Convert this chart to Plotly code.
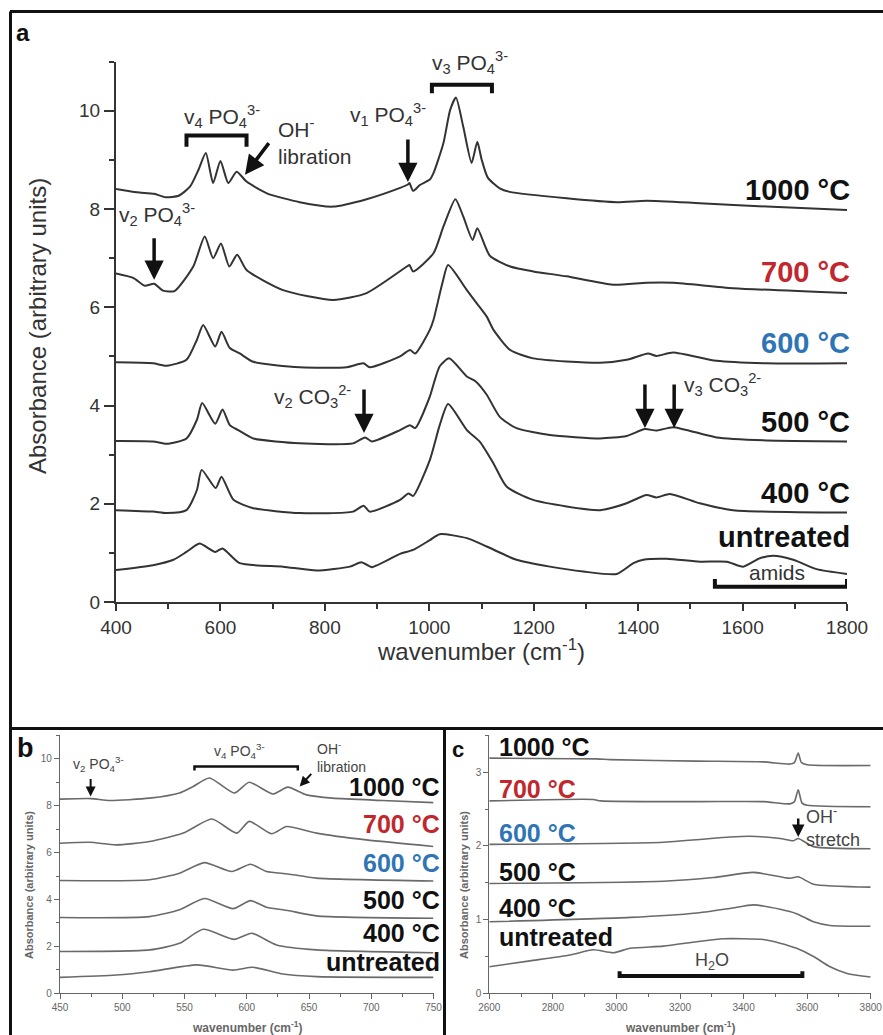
import plotly.graph_objects as go

W, H = 883, 1035


def px(x):
    return x / W


def py(y):
    return 1 - y / H


FONT = "Arial, Liberation Sans, sans-serif"

samples = ["1000 °C", "700 °C", "600 °C", "500 °C", "400 °C", "untreated"]
sample_colors = ["#111111", "#c1272d", "#2f75b5", "#111111", "#111111", "#111111"]

# ---------------- Panel a (400-1800 cm-1) ----------------
a_wn_1000 = [400, 440, 473, 495, 520, 542, 558, 572, 586, 600, 615, 631, 650, 689, 752, 816, 880, 944, 959, 962, 969,
             982, 1001, 1008, 1027, 1040, 1051, 1065, 1081, 1092, 1100, 1112, 1135, 1154, 1263, 1359, 1416, 1518, 1646, 1800]
a_ab_1000 = [8.41, 8.34, 8.31, 8.24, 8.27, 8.46, 8.80, 9.14, 8.53, 8.98, 8.53, 8.76, 8.56, 8.32, 8.14, 8.05, 8.20, 8.43,
             8.50, 8.53, 8.37, 8.49, 8.60, 8.73, 9.34, 10.02, 10.27, 9.68, 8.94, 9.37, 9.02, 8.64, 8.42, 8.35, 8.22,
             8.14, 8.17, 8.12, 8.05, 7.98]

a_wn_700 = [400, 433, 455, 473, 490, 512, 548, 570, 586, 601, 617, 632, 650, 720, 816, 880, 957, 962, 969, 1008, 1027,
            1050, 1065, 1083, 1092, 1116, 1155, 1199, 1263, 1352, 1416, 1467, 1582, 1800]
a_ab_700 = [6.69, 6.60, 6.44, 6.48, 6.34, 6.33, 6.83, 7.44, 7.00, 7.30, 6.83, 7.07, 6.76, 6.35, 6.15, 6.29, 6.83, 6.86,
            6.73, 7.10, 7.64, 8.20, 7.85, 7.37, 7.61, 7.05, 6.83, 6.73, 6.63, 6.46, 6.50, 6.50, 6.39, 6.29]

a_wn_600 = [400, 471, 497, 535, 555, 567, 590, 602, 618, 637, 663, 752, 842, 874, 886, 944, 963, 973, 1001, 1008, 1025,
            1036, 1072, 1091, 1110, 1123, 1155, 1199, 1327, 1378, 1419, 1435, 1467, 1550, 1646, 1800]
a_ab_600 = [4.88, 4.86, 4.81, 4.93, 5.34, 5.64, 5.20, 5.50, 5.17, 5.06, 4.89, 4.78, 4.78, 4.86, 4.78, 5.00, 5.13, 5.06,
            5.54, 5.74, 6.49, 6.86, 6.35, 6.08, 5.81, 5.54, 5.13, 4.96, 4.87, 4.93, 5.06, 5.01, 5.08, 4.91, 4.86, 4.86]

a_wn_500 = [400, 471, 497, 535, 555, 565, 590, 604, 618, 634, 663, 752, 854, 877, 890, 944, 963, 973, 1001, 1010, 1020,
            1038, 1072, 1089, 1110, 1135, 1167, 1231, 1327, 1378, 1413, 1435, 1467, 1550, 1646, 1800]
a_ab_500 = [3.28, 3.27, 3.22, 3.33, 3.71, 4.05, 3.63, 3.92, 3.60, 3.50, 3.33, 3.23, 3.23, 3.35, 3.27, 3.50, 3.60, 3.54,
            4.18, 4.50, 4.80, 4.96, 4.59, 4.49, 4.22, 3.77, 3.54, 3.40, 3.33, 3.38, 3.52, 3.49, 3.56, 3.35, 3.29, 3.27]

a_wn_400 = [400, 471, 497, 535, 555, 564, 591, 602, 625, 663, 752, 854, 874, 886, 944, 960, 969, 1001, 1020, 1036, 1072,
            1097, 1123, 1148, 1199, 1327, 1378, 1416, 1435, 1461, 1518, 1582, 1800]
a_ab_400 = [1.87, 1.84, 1.81, 1.87, 2.28, 2.69, 2.32, 2.55, 2.08, 1.91, 1.81, 1.84, 1.96, 1.84, 2.08, 2.21, 2.16, 2.89,
            3.60, 4.03, 3.50, 3.26, 2.82, 2.35, 2.08, 1.87, 2.01, 2.18, 2.13, 2.20, 2.01, 1.87, 1.82]

a_wn_un = [400, 471, 510, 535, 560, 590, 604, 637, 720, 784, 848, 870, 890, 944, 969, 1001, 1020, 1072, 1110, 1167, 1231,
           1295, 1359, 1391, 1410, 1455, 1518, 1570, 1601, 1633, 1659, 1697, 1742, 1800]
a_ab_un = [0.65, 0.75, 0.86, 1.02, 1.19, 1.02, 1.09, 0.79, 0.72, 0.64, 0.72, 0.81, 0.71, 0.98, 1.06, 1.26, 1.38, 1.30,
           1.13, 0.86, 0.72, 0.62, 0.57, 0.79, 0.86, 0.88, 0.82, 0.82, 0.72, 0.89, 0.94, 0.86, 0.67, 0.57]

# ---------------- Panel b (450-750 cm-1) ----------------
b_wn_1000 = [450, 475, 490, 522, 546, 557, 570, 590, 602, 621, 633, 648, 669, 709, 750]
b_ab_1000 = [8.28, 8.30, 8.22, 8.32, 8.54, 8.82, 9.18, 8.54, 9.00, 8.50, 8.79, 8.46, 8.32, 8.22, 8.13]
b_wn_700 = [450, 474, 495, 522, 549, 572, 592, 602, 620, 632, 656, 696, 750]
b_ab_700 = [6.40, 6.44, 6.33, 6.47, 6.83, 7.43, 6.83, 7.33, 6.80, 7.11, 6.83, 6.54, 6.26]
b_wn_600 = [450, 522, 546, 566, 588, 603, 616, 633, 656, 750]
b_ab_600 = [4.81, 4.84, 5.12, 5.57, 5.19, 5.50, 5.19, 5.09, 4.91, 4.79]
b_wn_500 = [450, 522, 546, 566, 589, 603, 616, 633, 656, 750]
b_ab_500 = [3.23, 3.27, 3.56, 4.04, 3.61, 3.95, 3.67, 3.53, 3.30, 3.20]
b_wn_400 = [450, 522, 546, 565, 590, 604, 624, 656, 750]
b_ab_400 = [1.78, 1.85, 2.13, 2.73, 2.30, 2.56, 2.06, 1.85, 1.73]
b_wn_un = [450, 495, 522, 560, 589, 605, 629, 656, 750]
b_ab_un = [0.68, 0.78, 0.92, 1.21, 0.99, 1.11, 0.82, 0.71, 0.68]

# ---------------- Panel c (2600-3800 cm-1) ----------------
c_wn_1000 = [2600, 2938, 2980, 3253, 3462, 3546, 3560, 3572, 3582, 3600, 3800]
c_ab_1000 = [3.19, 3.18, 3.17, 3.15, 3.14, 3.11, 3.13, 3.26, 3.13, 3.10, 3.09]
c_wn_700 = [2600, 2927, 2950, 3253, 3462, 3546, 3560, 3572, 3584, 3600, 3800]
c_ab_700 = [2.61, 2.63, 2.61, 2.60, 2.60, 2.57, 2.60, 2.76, 2.58, 2.55, 2.53]
c_wn_600 = [2600, 3148, 3357, 3420, 3515, 3557, 3572, 3620, 3800]
c_ab_600 = [2.02, 2.05, 2.12, 2.13, 2.10, 2.07, 2.10, 1.99, 1.96]
c_wn_500 = [2600, 3148, 3305, 3431, 3546, 3572, 3620, 3800]
c_ab_500 = [1.49, 1.52, 1.57, 1.64, 1.56, 1.58, 1.48, 1.44]
c_wn_400 = [2600, 3043, 3253, 3357, 3431, 3515, 3567, 3620, 3672, 3800]
c_ab_400 = [0.97, 1.03, 1.09, 1.15, 1.20, 1.14, 1.08, 0.97, 0.92, 0.91]
c_wn_un = [2600, 2728, 2854, 2927, 2990, 3043, 3148, 3253, 3336, 3462, 3515, 3567, 3620, 3672, 3726, 3800]
c_ab_un = [0.36, 0.44, 0.52, 0.59, 0.55, 0.61, 0.64, 0.70, 0.74, 0.73, 0.68, 0.61, 0.50, 0.36, 0.27, 0.22]

a_series = [(a_wn_1000, a_ab_1000), (a_wn_700, a_ab_700), (a_wn_600, a_ab_600),
            (a_wn_500, a_ab_500), (a_wn_400, a_ab_400), (a_wn_un, a_ab_un)]
b_series = [(b_wn_1000, b_ab_1000), (b_wn_700, b_ab_700), (b_wn_600, b_ab_600),
            (b_wn_500, b_ab_500), (b_wn_400, b_ab_400), (b_wn_un, b_ab_un)]
c_series = [(c_wn_1000, c_ab_1000), (c_wn_700, c_ab_700), (c_wn_600, c_ab_600),
            (c_wn_500, c_ab_500), (c_wn_400, c_ab_400), (c_wn_un, c_ab_un)]

fig = go.Figure()
for (wn, ab), name in zip(a_series, samples):
    fig.add_trace(go.Scatter(x=wn, y=ab, name=name, mode="lines", xaxis="x", yaxis="y",
                             line=dict(color="#333333", width=2, shape="spline", smoothing=0.6)))
for (wn, ab), name in zip(b_series, samples):
    fig.add_trace(go.Scatter(x=wn, y=ab, name=name, mode="lines", xaxis="x2", yaxis="y2",
                             line=dict(color="#6a6a6a", width=1.6, shape="spline", smoothing=0.6)))
for (wn, ab), name in zip(c_series, samples):
    fig.add_trace(go.Scatter(x=wn, y=ab, name=name, mode="lines", xaxis="x3", yaxis="y3",
                             line=dict(color="#6a6a6a", width=1.6, shape="spline", smoothing=0.6)))


def axis(domain, rng, dtick, minor_dtick, anchor, size, color, lw, tl, mtl, tick0=None):
    d = dict(domain=domain, range=rng, anchor=anchor, showline=True, linecolor=color, linewidth=lw,
             ticks="outside", ticklen=tl, tickwidth=lw, tickcolor=color, dtick=dtick, automargin=False,
             showgrid=False, zeroline=False, fixedrange=True,
             tickfont=dict(size=size, color=color, family=FONT),
             minor=dict(dtick=minor_dtick, ticks="outside", ticklen=mtl, tickwidth=lw, tickcolor=color,
                        showgrid=False))
    if tick0 is not None:
        d["tick0"] = tick0
    return d


ya_dom = [py(602), py(61.7)]
ybc_dom = [py(993.3), py(735.3)]

fig.update_layout(
    template="none",
    width=W, height=H, margin=dict(l=0, r=0, t=0, b=0, pad=0), autosize=False,
    paper_bgcolor="white", plot_bgcolor="white", showlegend=False,
    font=dict(family=FONT),
    xaxis=axis([px(116), px(847)], [400, 1800], 200, 100, "y", 19, "#333333", 2, 7, 5, 400),
    yaxis=axis(ya_dom, [0, 11], 2, 1, "x", 19, "#333333", 2, 10, 5, 0),
    xaxis2=axis([px(60), px(433.5)], [450, 750], 50, 25, "y2", 10, "#666666", 1.2, 5, 3, 450),
    yaxis2=axis(ybc_dom, [0, 11], 2, 1, "x2", 10, "#666666", 1.2, 5, 3, 0),
    xaxis3=axis([px(489.3), px(870.7)], [2600, 3800], 200, 100, "y3", 10, "#666666", 1.2, 5, 3, 2600),
    yaxis3=axis(ybc_dom, [0, 3.5], 1, 0.5, "x3", 10, "#666666", 1.2, 5, 3, 0),
)

ann = []
shapes = []


def ptext(text, x, y, size, color, angle=0, xa="center", ya="middle"):
    return dict(text=text, x=px(x), y=py(y), xref="paper", yref="paper", showarrow=False, textangle=angle,
                xanchor=xa, yanchor=ya, font=dict(size=size, color=color))


# Panel frames
for (x0, y0, x1, y1) in [(10, 11.5, 883, 11.5), (10.5, 11.5, 10.5, 1035), (10, 728.5, 883, 728.5),
                         (444.5, 728.5, 444.5, 1035)]:
    shapes.append(dict(type="line", xref="paper", yref="paper", x0=px(x0), y0=py(y0), x1=px(x1), y1=py(y1),
                       line=dict(color="#111111", width=3)))

# Panel letters
ann.append(ptext("<b>a</b>", 23, 33, 24, "#111"))
ann.append(ptext("<b>b</b>", 25, 748, 27, "#111"))
ann.append(ptext("<b>c</b>", 458, 749, 22, "#111"))

# Axis titles
ann.append(ptext("Absorbance (arbitrary units)", 38, 326, 24, "#333", angle=-90))
ann.append(ptext("wavenumber (cm<sup>-1</sup>)", 481, 650, 24, "#333"))
ann.append(ptext("<b>Absorbance (arbitrary units)</b>", 29, 885, 11, "#666", angle=-90))
ann.append(ptext("<b>wavenumber (cm<sup>-1</sup>)</b>", 247, 1027, 12, "#666"))
ann.append(ptext("<b>Absorbance (arbitrary units)</b>", 464, 885, 11, "#666", angle=-90))
ann.append(ptext("<b>wavenumber (cm<sup>-1</sup>)</b>", 680, 1027, 12, "#666"))

# Sample labels
a_label_y = [190, 272, 343, 422, 493, 537]
b_label_y = [787, 824, 863, 900, 933, 962]
c_label_y = [747, 789, 833, 872, 908, 937]
for name, col, ya, yb, yc in zip(samples, sample_colors, a_label_y, b_label_y, c_label_y):
    ann.append(ptext(f"<b>{name}</b>", 852, ya, 29, col, xa="right"))
    ann.append(ptext(f"<b>{name}</b>", 442, yb, 25, col, xa="right"))
    ann.append(ptext(f"<b>{name}</b>", 497, yc, 25, col, xa="left"))

# --- Panel a band annotations ---
fa = dict(size=21, color="#333")
ann += [
    dict(text="v<sub>4</sub> PO<sub>4</sub><sup>3-</sup>", x=603, y=9.88, xref="x", yref="y", showarrow=False, font=fa),
    dict(text="OH<sup>-</sup><br>libration", x=707, y=9.38, xref="x", yref="y", showarrow=False, font=fa,
         xanchor="left", align="left"),
    dict(text="v<sub>1</sub> PO<sub>4</sub><sup>3-</sup>", x=921, y=9.92, xref="x", yref="y", showarrow=False, font=fa),
    dict(text="v<sub>3</sub> PO<sub>4</sub><sup>3-</sup>", x=1078, y=10.98, xref="x", yref="y", showarrow=False, font=fa),
    dict(text="v<sub>2</sub> PO<sub>4</sub><sup>3-</sup>", x=478, y=7.88, xref="x", yref="y", showarrow=False, font=fa),
    dict(text="v<sub>2</sub> CO<sub>3</sub><sup>2-</sup>", x=777, y=4.18, xref="x", yref="y", showarrow=False, font=fa),
    dict(text="v<sub>3</sub> CO<sub>3</sub><sup>2-</sup>", x=1484, y=4.42, xref="x", yref="y", showarrow=False, font=fa,
         xanchor="left"),
    dict(text="amids", x=1665, y=0.60, xref="x", yref="y", showarrow=False, font=fa),
]

arrow_style = dict(text="", showarrow=True, arrowhead=2, arrowsize=1.1, arrowwidth=3.5, arrowcolor="#111")
for (x, y, ax, ay) in [(647, 8.70, 25, -33), (959, 8.55, 0, -44), (473, 6.56, 0, -43), (875, 3.44, 0, -45),
                       (1413, 3.54, 0, -45), (1469, 3.54, 0, -45)]:
    ann.append(dict(x=x, y=y, ax=ax, ay=ay, xref="x", yref="y", **arrow_style))

# brackets (x0, x1, y_bar, y_end)
for (x0, x1, yb, ye) in [(535, 650, 9.50, 9.27), (1005, 1120, 10.53, 10.36), (1547, 1800, 0.31, 0.47)]:
    shapes.append(dict(type="path", xref="x", yref="y",
                       path=f"M {x0},{ye} L {x0},{yb} L {x1},{yb} L {x1},{ye}",
                       line=dict(color="#111", width=4)))

# --- Panel b annotations ---
fb = dict(size=14, color="#444")
ann += [
    dict(text="v<sub>2</sub> PO<sub>4</sub><sup>3-</sup>", x=481, y=9.79, xref="x2", yref="y2", showarrow=False, font=fb),
    dict(text="v<sub>4</sub> PO<sub>4</sub><sup>3-</sup>", x=594, y=10.31, xref="x2", yref="y2", showarrow=False, font=fb),
    dict(text="OH<sup>-</sup><br>libration", x=655, y=10.08, xref="x2", yref="y2", showarrow=False, font=fb,
         xanchor="left", align="left"),
]
for (x, y, ax, ay) in [(474.6, 8.39, 0, -19), (642.5, 8.82, 13, -14)]:
    ann.append(dict(x=x, y=y, ax=ax, ay=ay, xref="x2", yref="y2", text="", showarrow=True, arrowhead=2,
                    arrowsize=1, arrowwidth=2, arrowcolor="#111"))
shapes.append(dict(type="path", xref="x2", yref="y2", path="M 558,9.5 L 558,9.67 L 641,9.67 L 641,9.5",
                   line=dict(color="#111", width=2.5)))

# --- Panel c annotations ---
fc = dict(size=18, color="#444")
ann += [
    dict(text="OH<sup>-</sup><br>stretch", x=3590, y=2.25, xref="x3", yref="y3", showarrow=False, font=fc,
         xanchor="left", align="left"),
    dict(text="H<sub>2</sub>O", x=3300, y=0.43, xref="x3", yref="y3", showarrow=False, font=fc),
    dict(x=3572, y=2.12, ax=0, ay=-20, xref="x3", yref="y3", text="", showarrow=True, arrowhead=2,
         arrowsize=1, arrowwidth=2.5, arrowcolor="#111"),
]
shapes.append(dict(type="path", xref="x3", yref="y3", path="M 3010,0.30 L 3010,0.234 L 3585,0.234 L 3585,0.30",
                   line=dict(color="#111", width=4)))

fig.update_layout(annotations=ann, shapes=shapes)

fig.write_html("out.html", config={"displayModeBar": False},
               post_script="document.body.style.margin='0';document.body.style.overflow='hidden';")
